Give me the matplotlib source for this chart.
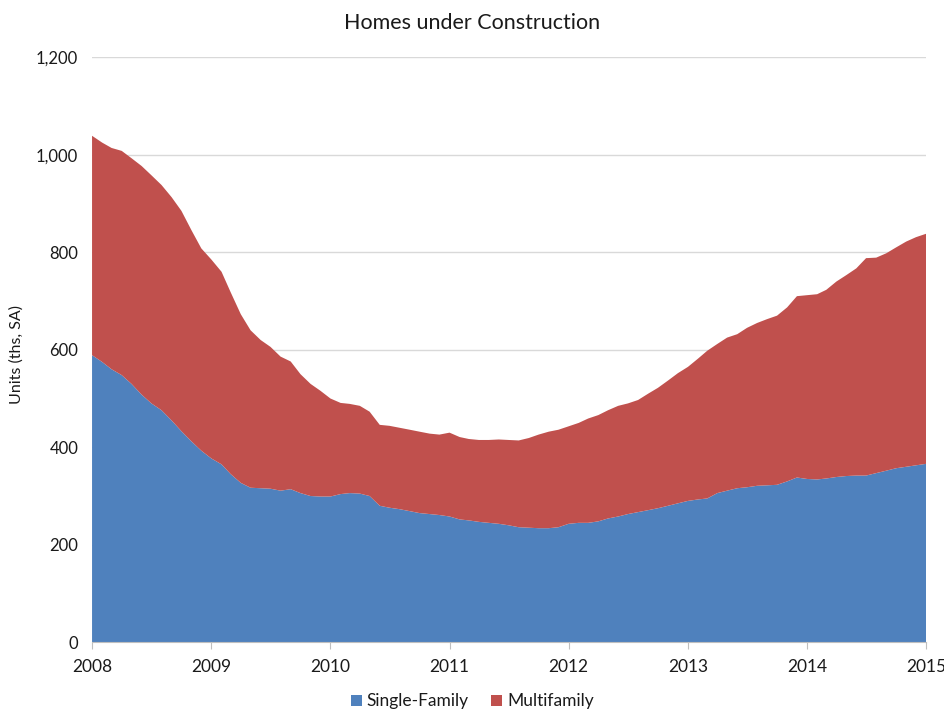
import matplotlib
matplotlib.use("Agg")
import matplotlib.pyplot as plt
import pandas as pd
from matplotlib.ticker import FuncFormatter, MultipleLocator

# Monthly data, Jan 2008 - Jan 2015 (thousands of units, SA)
start_month = "2008-01"
single_family = [589, 575, 560, 548, 530, 508, 490, 476, 455, 433, 412, 393,
                 377, 365, 345, 327, 317, 316, 315, 311, 314, 306, 300, 299,
                 299, 304, 306, 305, 300, 280, 276, 273, 269, 265, 263, 261,
                 258, 252, 250, 247, 245, 243, 240, 236, 235, 234, 234, 236,
                 243, 245, 245, 248, 254, 258, 263, 267, 271, 275, 280, 285,
                 290, 293, 295, 306, 311, 316, 318, 321, 322, 323, 330, 338,
                 335, 334, 336, 339, 341, 342, 342, 347, 352, 357, 360, 363,
                 366]
multifamily = [450, 450, 454, 460, 463, 469, 468, 462, 458, 452, 433, 415,
               408, 395, 373, 346, 323, 304, 291, 275, 262, 244, 230, 217,
               201, 187, 183, 180, 173, 166, 168, 167, 167, 167, 165, 165,
               172, 169, 167, 168, 170, 173, 175, 178, 184, 192, 198, 200,
               200, 205, 214, 218, 222, 227, 227, 230, 239, 247, 257, 267,
               275, 289, 303, 306, 314, 316, 327, 334, 341, 347, 357, 372,
               377, 380, 387, 401, 412, 425, 446, 442, 446, 453, 462, 468,
               472]
series_names = ["Single-Family", "Multifamily"]
year_labels = ["2008", "2009", "2010", "2011", "2012", "2013", "2014", "2015"]

dates = pd.date_range(start_month, periods=len(single_family), freq="MS")

blue = "#4F81BD"
red = "#C0504D"
txt = "#1A1A1A"

plt.rcParams["font.family"] = ["Lato", "DejaVu Sans"]

fig = plt.figure(figsize=(9.45, 7.10), dpi=100)
ax = fig.add_axes([0.0974, 0.0954, 0.8826, 0.8239])

ax.stackplot(dates, single_family, multifamily, colors=[blue, red],
             labels=series_names, linewidth=0)

ax.set_xlim(dates[0], dates[-1])
ax.set_ylim(0, 1200)
ax.yaxis.set_major_locator(MultipleLocator(200))
ax.yaxis.set_major_formatter(FuncFormatter(lambda v, p: f"{int(v):,}"))

year_ticks = pd.to_datetime([f"{y}-01-01" for y in year_labels])
ax.set_xticks(year_ticks)
ax.set_xticklabels(year_labels)

ax.grid(axis="y", color="#D9D9D9", linewidth=1)
ax.set_axisbelow(True)
for s in ["left", "right", "top"]:
    ax.spines[s].set_visible(False)
ax.spines["bottom"].set_color("#BFBFBF")
ax.spines["bottom"].set_zorder(5)
ax.tick_params(axis="y", length=0, labelsize=12, colors=txt, pad=10)
ax.tick_params(axis="x", length=5, color="#BFBFBF", labelsize=12.5, colors=txt, pad=7)

fig.text(17 / 945, 0.5, "Units (ths, SA)", rotation=90, ha="center", va="center",
         fontsize=11.5, color=txt)
fig.text(0.5, 0.968, "Homes under Construction", ha="center", va="center",
         fontsize=15.5, color=txt)

fig.legend(loc="center", bbox_to_anchor=(0.5, 0.012), ncol=2, frameon=False,
           fontsize=12.5, handlelength=0.6, handleheight=0.6, handletextpad=0.3,
           columnspacing=1.3, labelcolor=txt)

fig.savefig("out.png", dpi=100)
